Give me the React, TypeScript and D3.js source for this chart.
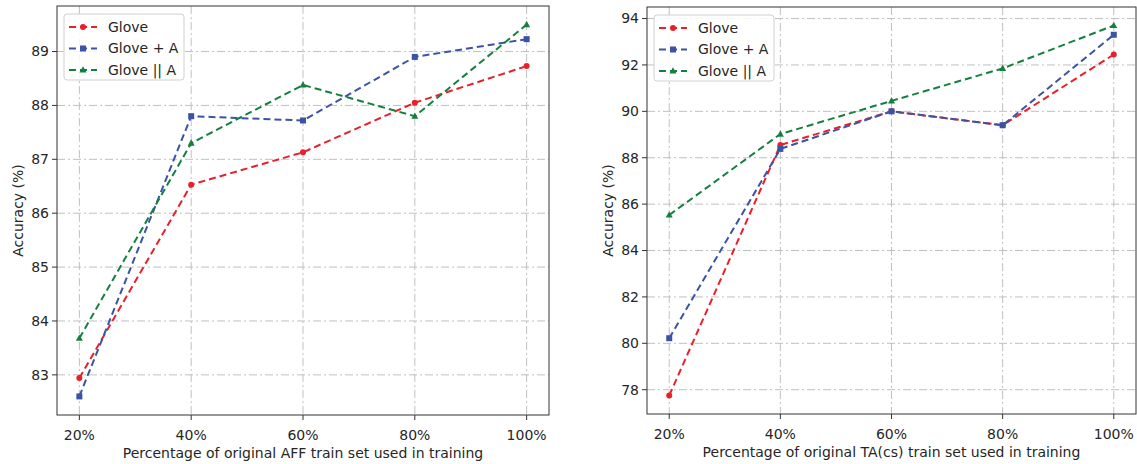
import React from 'react'
import * as d3 from 'd3'

const pcts = [20, 40, 60, 80, 100]
const xTickLabels = ['20%', '40%', '60%', '80%', '100%']
const seriesNames = ['Glove', 'Glove + A', 'Glove || A']

// AFF panel
const affGlove = [82.94, 86.53, 87.13, 88.05, 88.73]
const affGlovePlusA = [82.6, 87.8, 87.72, 88.9, 89.23]
const affGloveConcatA = [83.68, 87.3, 88.38, 87.8, 89.5]
const affYTicks = [83, 84, 85, 86, 87, 88, 89]

// TA(cs) panel
const taGlove = [77.75, 88.55, 90.0, 89.4, 92.45]
const taGlovePlusA = [80.22, 88.38, 90.0, 89.4, 93.3]
const taGloveConcatA = [85.53, 89.02, 90.45, 91.85, 93.7]
const taYTicks = [78, 80, 82, 84, 86, 88, 90, 92, 94]

const colors = ['#e8202a', '#3a53a4', '#14803f']
const markers = ['circle', 'square', 'triangle']
const font = 'DejaVu Sans, sans-serif'
const textColor = '#262626'
const fs = 14

const Marker = ({ kind, x, y, color }: { kind: string, x: number, y: number, color: string }) => {
  if (kind === 'circle') return <circle cx={x} cy={y} r={3} fill={color} />
  if (kind === 'square') return <rect x={x - 3} y={y - 3} width={6} height={6} fill={color} />
  return <path d={`M${x},${y - 3.8}L${x + 3.5},${y + 2.6}L${x - 3.5},${y + 2.6}Z`} fill={color} />
}

type PanelProps = {
  left: number,
  right: number,
  top: number,
  bottom: number,
  series: number[][],
  yTicks: number[],
  xLabel: string,
}

const Panel = ({ left, right, top, bottom, series, yTicks, xLabel }: PanelProps) => {
  const all = series.flat()
  const lo = d3.min(all) as number
  const hi = d3.max(all) as number
  const pad = (hi - lo) * 0.05
  const x = d3.scaleLinear().domain([16, 104]).range([left, right])
  const y = d3.scaleLinear().domain([lo - pad, hi + pad]).range([bottom, top])
  const line = d3.line<number>()
    .x((d, i) => x(pcts[i]))
    .y(d => y(d))
  const gridStyle = { stroke: '#c0c0c0', strokeWidth: 1, strokeDasharray: '8,3,2,3' }

  return (
    <g fontFamily={font}>
      {yTicks.map(t => (
        <line key={`gy${t}`} x1={left} x2={right} y1={y(t)} y2={y(t)} {...gridStyle} />
      ))}
      {pcts.map(p => (
        <line key={`gx${p}`} x1={x(p)} x2={x(p)} y1={top} y2={bottom} {...gridStyle} />
      ))}
      {series.map((s, k) => (
        <g key={k}>
          <path d={line(s) || ''} fill="none" stroke={colors[k]} strokeWidth={2} strokeDasharray="7,4" />
          {s.map((v, i) => (
            <Marker key={i} kind={markers[k]} x={x(pcts[i])} y={y(v)} color={colors[k]} />
          ))}
        </g>
      ))}
      <rect x={left} y={top} width={right - left} height={bottom - top} fill="none" stroke="#333" strokeWidth={1} />
      {yTicks.map(t => (
        <g key={`ty${t}`}>
          <line x1={left - 5} x2={left} y1={y(t)} y2={y(t)} stroke="#333" />
          <text x={left - 8} y={y(t)} dy="0.35em" textAnchor="end" fontSize={fs} fill={textColor}>{t}</text>
        </g>
      ))}
      {pcts.map((p, i) => (
        <g key={`tx${p}`}>
          <line x1={x(p)} x2={x(p)} y1={bottom} y2={bottom + 5} stroke="#333" />
          <text x={x(p)} y={bottom + 25} textAnchor="middle" fontSize={fs} fill={textColor}>{xTickLabels[i]}</text>
        </g>
      ))}
      <text x={(left + right) / 2} y={bottom + 43} textAnchor="middle" fontSize={fs} fill={textColor}>{xLabel}</text>
      <text
        transform={`translate(${left - 34},${(top + bottom) / 2}) rotate(-90)`}
        textAnchor="middle"
        fontSize={fs}
        fill={textColor}
      >
        Accuracy (%)
      </text>
      <g transform={`translate(${left + 7},${top + 8})`}>
        <rect x={0} y={0} width={120} height={66} rx={3} fill="#fff" fillOpacity={0.85} stroke="#d0d0d0" />
        {seriesNames.map((n, k) => (
          <g key={n} transform={`translate(0,${13 + k * 21.5})`}>
            <line x1={5} x2={33} y1={0} y2={0} stroke={colors[k]} strokeWidth={2} strokeDasharray="7,4" />
            <Marker kind={markers[k]} x={19} y={0} color={colors[k]} />
            <text x={44} y={0} dy="0.35em" fontSize={fs} fill={textColor}>{n}</text>
          </g>
        ))}
      </g>
    </g>
  )
}

const App = () => (
  <svg width={1137} height={464} style={{ position: 'absolute', left: 0, top: 0, background: '#fff' }}>
    <Panel
      left={57}
      right={549}
      top={6}
      bottom={415}
      series={[affGlove, affGlovePlusA, affGloveConcatA]}
      yTicks={affYTicks}
      xLabel="Percentage of original AFF train set used in training"
    />
    <Panel
      left={647}
      right={1136}
      top={7}
      bottom={414}
      series={[taGlove, taGlovePlusA, taGloveConcatA]}
      yTicks={taYTicks}
      xLabel="Percentage of original TA(cs) train set used in training"
    />
  </svg>
)

export default App
